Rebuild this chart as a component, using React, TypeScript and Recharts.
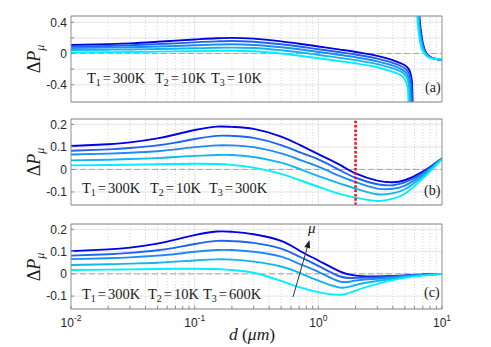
import React from 'react';
import { LineChart, Line, XAxis, YAxis, CartesianGrid, ReferenceLine } from 'recharts';

const W = 491;
const H = 347;

const muColors = ['#0000e6', '#1e64f0', '#1e8cf0', '#14b4f0', '#00eeff'];

// x ticks on the log axis (minor + decades)
const xTicks = [
  0.01, 0.02, 0.03, 0.04, 0.05, 0.06, 0.07, 0.08, 0.09,
  0.1, 0.2, 0.3, 0.4, 0.5, 0.6, 0.7, 0.8, 0.9,
  1, 2, 3, 4, 5, 6, 7, 8, 9, 10,
];
const xMajorGrid = [0.1, 1];

// panel (a)  T3 = 10K
const dA = [0.01, 0.02, 0.03, 0.05, 0.07, 0.1, 0.15, 0.2, 0.3, 0.5, 0.7, 1, 1.5, 2, 3, 4, 4.5, 5, 5.3, 5.5, 5.7, 5.9, 6.1, 6.3, 6.5, 6.8, 7, 7.5, 8, 9, 10];
const a1 = [0.11, 0.12, 0.13, 0.15, 0.165, 0.18, 0.195, 0.2, 0.19, 0.155, 0.125, 0.09, 0.05, 0.02, -0.03, -0.085, -0.115, -0.15, -0.185, -0.23, -0.35, -1.2, null, 2.0, 0.6, 0.25, 0.13, 0.0, -0.04, -0.07, -0.085];
const a2 = [0.09, 0.097, 0.105, 0.12, 0.13, 0.143, 0.155, 0.16, 0.15, 0.118, 0.09, 0.055, 0.017, -0.013, -0.065, -0.12, -0.15, -0.19, -0.23, -0.29, -0.5, -1.5, null, 1.6, 0.5, 0.2, 0.1, -0.01, -0.045, -0.07, -0.082];
const a3 = [0.07, 0.075, 0.08, 0.09, 0.097, 0.105, 0.115, 0.118, 0.11, 0.08, 0.054, 0.02, -0.018, -0.048, -0.1, -0.155, -0.185, -0.23, -0.28, -0.4, -1.4, null, null, 1.2, 0.42, 0.17, 0.08, -0.015, -0.05, -0.07, -0.08];
const a4 = [0.045, 0.049, 0.052, 0.058, 0.062, 0.067, 0.074, 0.076, 0.07, 0.042, 0.016, -0.018, -0.055, -0.085, -0.135, -0.19, -0.22, -0.27, -0.34, -0.6, -1.5, null, null, 0.9, 0.34, 0.13, 0.06, -0.02, -0.052, -0.07, -0.078];
const a5 = [0.015, 0.018, 0.02, 0.024, 0.027, 0.03, 0.034, 0.035, 0.03, 0.0, -0.028, -0.06, -0.098, -0.125, -0.175, -0.235, -0.265, -0.33, -0.45, -1.5, null, null, 2.0, 0.5, 0.25, 0.08, 0.03, -0.03, -0.055, -0.07, -0.075];

// panels (b) and (c) share the d grid
const dBC = [0.01, 0.02, 0.03, 0.05, 0.07, 0.1, 0.15, 0.2, 0.3, 0.5, 0.7, 1, 1.5, 2, 3, 4, 5, 7, 10];

// panel (b)  T3 = 300K
const b1 = [0.104, 0.112, 0.12, 0.138, 0.155, 0.175, 0.19, 0.189, 0.18, 0.146, 0.11, 0.068, 0.02, -0.018, -0.05, -0.057, -0.048, -0.01, 0.05];
const b2 = [0.083, 0.089, 0.095, 0.107, 0.119, 0.135, 0.149, 0.149, 0.14, 0.108, 0.077, 0.045, -0.004, -0.037, -0.066, -0.07, -0.058, -0.016, 0.049];
const b3 = [0.066, 0.07, 0.074, 0.081, 0.089, 0.099, 0.107, 0.107, 0.099, 0.071, 0.044, 0.012, -0.03, -0.056, -0.085, -0.086, -0.072, -0.022, 0.048];
const b4 = [0.04, 0.043, 0.046, 0.05, 0.055, 0.06, 0.064, 0.064, 0.055, 0.03, 0.003, -0.03, -0.063, -0.085, -0.11, -0.106, -0.088, -0.03, 0.047];
const b5 = [0.018, 0.02, 0.021, 0.023, 0.024, 0.025, 0.024, 0.02, 0.008, -0.02, -0.047, -0.077, -0.11, -0.125, -0.14, -0.13, -0.108, -0.04, 0.046];

// panel (c)  T3 = 600K
const c1 = [0.102, 0.11, 0.118, 0.136, 0.154, 0.174, 0.19, 0.189, 0.178, 0.148, 0.105, 0.06, 0.01, -0.008, -0.012, -0.01, -0.007, -0.003, 0];
const c2 = [0.082, 0.088, 0.094, 0.106, 0.118, 0.134, 0.148, 0.147, 0.139, 0.113, 0.078, 0.036, -0.012, -0.018, -0.016, -0.012, -0.008, -0.004, 0];
const c3 = [0.066, 0.07, 0.074, 0.082, 0.089, 0.099, 0.107, 0.107, 0.099, 0.077, 0.045, 0.009, -0.035, -0.03, -0.022, -0.016, -0.011, -0.005, 0];
const c4 = [0.04, 0.043, 0.046, 0.05, 0.055, 0.06, 0.065, 0.064, 0.055, 0.033, 0.005, -0.031, -0.062, -0.05, -0.032, -0.022, -0.014, -0.006, 0];
const c5 = [0.017, 0.019, 0.02, 0.022, 0.023, 0.023, 0.022, 0.017, 0.005, -0.032, -0.06, -0.082, -0.094, -0.075, -0.045, -0.028, -0.018, -0.008, 0];

const keys = ['m1', 'm2', 'm3', 'm4', 'm5'];

const toRows = (d: number[], series: (number | null)[][]) =>
  d.map((x, i) => {
    const row: any = { d: x };
    series.forEach((s, j) => (row[keys[j]] = s[i]));
    return row;
  });

const rowsA = toRows(dA, [a1, a2, a3, a4, a5]);
const rowsB = toRows(dBC, [b1, b2, b3, b4, b5]);
const rowsC = toRows(dBC, [c1, c2, c3, c4, c5]);

const sans = 'Liberation Sans, Arial, sans-serif';
const serif = 'Liberation Serif, Times New Roman, serif';
const axisColor = '#8c8c8c';
const textColor = '#262626';

const XTick = (props: any) => {
  const { x, y, payload } = props;
  const lg = Math.log10(payload.value);
  const e = Math.round(lg);
  if (Math.abs(lg - e) > 1e-6) return null;
  return (
    <text x={x} y={y} textAnchor="middle" fontFamily={sans} fontSize={12} fill={textColor}>
      <tspan dy="0.71em">10</tspan>
      <tspan dy="-0.6em" fontSize={8.5}>{e}</tspan>
    </text>
  );
};

interface PanelProps {
  rows: any[];
  plotTop: number;
  plotBottom: number;
  domain: [number, number];
  yTicks: number[];
  yLabels: number[];
  showX: boolean;
  curve: 'monotone' | 'natural';
  marker?: number;
}

// axes get 1px of room each, so the plot box is 71..442 wide
const Panel = ({ rows, plotTop, plotBottom, domain, yTicks, yLabels, showX, curve, marker }: PanelProps) => (
  <div style={{ position: 'absolute', left: 0, top: 0, width: W, height: H }}>
    <LineChart
      width={W}
      height={H}
      data={rows}
      margin={{ top: plotTop - 1, right: 48, bottom: H - plotBottom - 1, left: 70 }}
    >
      <CartesianGrid xAxisId="b" yAxisId="l" vertical={false} stroke="#e3e3e3" />
      {xTicks
        .filter((v) => !xMajorGrid.includes(v) && v !== 0.01 && v !== 10)
        .map((v) => (
          <ReferenceLine key={'m' + v} xAxisId="b" yAxisId="l" x={v} stroke="#d6d6d6" strokeDasharray="1 2" />
        ))}
      {xMajorGrid.map((v) => (
        <ReferenceLine key={'M' + v} xAxisId="b" yAxisId="l" x={v} stroke="#e3e3e3" />
      ))}
      <ReferenceLine xAxisId="b" yAxisId="l" y={0} stroke="#a6a6a6" strokeDasharray="6 3" />
      <XAxis
        xAxisId="b"
        dataKey="d"
        type="number"
        scale="log"
        domain={[0.01, 10]}
        allowDataOverflow
        ticks={xTicks}
        interval={0}
        height={1}
        tickSize={-3}
        tickMargin={12}
        stroke={axisColor}
        tick={showX ? <XTick /> : false}
      />
      <XAxis
        xAxisId="t"
        orientation="top"
        dataKey="d"
        type="number"
        scale="log"
        domain={[0.01, 10]}
        allowDataOverflow
        ticks={xTicks}
        interval={0}
        height={1}
        tickSize={-3}
        stroke={axisColor}
        tick={false}
      />
      <YAxis
        yAxisId="l"
        type="number"
        domain={domain}
        allowDataOverflow
        ticks={yTicks}
        interval={0}
        width={1}
        tickSize={-3}
        tickMargin={7}
        stroke={axisColor}
        tick={{ fill: textColor, fontSize: 12, fontFamily: sans }}
        tickFormatter={(v: number) => (yLabels.includes(v) ? String(v) : '')}
      />
      <YAxis
        yAxisId="r"
        orientation="right"
        type="number"
        domain={domain}
        allowDataOverflow
        ticks={yTicks}
        interval={0}
        width={1}
        tickSize={-3}
        stroke={axisColor}
        tick={false}
      />
      {keys.map((k, i) => (
        <Line
          key={k}
          xAxisId="b"
          yAxisId="l"
          dataKey={k}
          type={curve}
          stroke={muColors[i]}
          strokeWidth={1.9}
          dot={false}
          connectNulls={false}
          isAnimationActive={false}
        />
      ))}
      {marker !== undefined && (
        <ReferenceLine xAxisId="b" yAxisId="l" x={marker} stroke="#e8101a" strokeWidth={2.5} strokeDasharray="2.5 1.8" />
      )}
    </LineChart>
  </div>
);

const TLabel = ({ xs, y, t3 }: { xs: number[]; y: number; t3: string }) => {
  const vals = ['300K', '10K', t3];
  return (
    <>
      {vals.map((v, i) => (
        <text key={i} x={xs[i]} y={y} fontFamily={serif} fontSize={14.5} fill="#1a1a1a">
          T
          <tspan fontSize={10} dy={3}>{i + 1}</tspan>
          <tspan dy={-3} dx={2}>=</tspan>
          <tspan dx={2}>{v}</tspan>
        </text>
      ))}
    </>
  );
};

const YLabel = ({ cy }: { cy: number }) => (
  <text x={40} y={cy} transform={`rotate(-90 40 ${cy})`} textAnchor="middle" fontFamily={serif} fontSize={18} fill="#1a1a1a">
    Δ<tspan fontStyle="italic">P</tspan>
    <tspan fontStyle="italic" fontSize={12} dy={4}>μ</tspan>
  </text>
);

const Overlay = () => (
  <svg width={W} height={H} style={{ position: 'absolute', left: 0, top: 0, pointerEvents: 'none' }}>
    <TLabel xs={[87, 155, 211]} y={83} t3="10K" />
    <TLabel xs={[82, 150, 209]} y={193} t3="300K" />
    <TLabel xs={[82, 148, 203]} y={299} t3="600K" />
    <text x={425} y={92} fontFamily={serif} fontSize={14} fill="#1a1a1a">(a)</text>
    <text x={424} y={195} fontFamily={serif} fontSize={14} fill="#1a1a1a">(b)</text>
    <text x={424} y={297} fontFamily={serif} fontSize={14} fill="#1a1a1a">(c)</text>
    <YLabel cy={59} />
    <YLabel cy={162} />
    <YLabel cy={267} />
    <text x={252} y={340} textAnchor="middle" fontFamily={serif} fontSize={17.5} fill="#1a1a1a">
      <tspan fontStyle="italic">d</tspan> (<tspan fontStyle="italic">μm</tspan>)
    </text>
    <line x1={293} y1={297} x2={307.2} y2={247.7} stroke="#333" strokeWidth={1} />
    <polygon points="309.5,240 310.1,248.5 304.3,246.9" fill="#222" />
    <text x={308} y={233} fontFamily={serif} fontStyle="italic" fontSize={15} fill="#1a1a1a">μ</text>
  </svg>
);

export default function App() {
  return (
    <div style={{ position: 'absolute', left: 0, top: 0, width: W, height: H, background: '#fff' }}>
      <Panel rows={rowsA} plotTop={16} plotBottom={102} domain={[-0.62, 0.48]} yTicks={[-0.4, -0.2, 0, 0.2, 0.4]} yLabels={[-0.4, 0, 0.4]} showX={false} curve="monotone" />
      <Panel rows={rowsB} plotTop={119} plotBottom={205} domain={[-0.158, 0.224]} yTicks={[-0.1, 0, 0.1, 0.2]} yLabels={[-0.1, 0, 0.1, 0.2]} showX={false} curve="natural" marker={2} />
      <Panel rows={rowsC} plotTop={224} plotBottom={309} domain={[-0.158, 0.224]} yTicks={[-0.1, 0, 0.1, 0.2]} yLabels={[-0.1, 0, 0.1, 0.2]} showX={true} curve="natural" />
      <Overlay />
    </div>
  );
}
